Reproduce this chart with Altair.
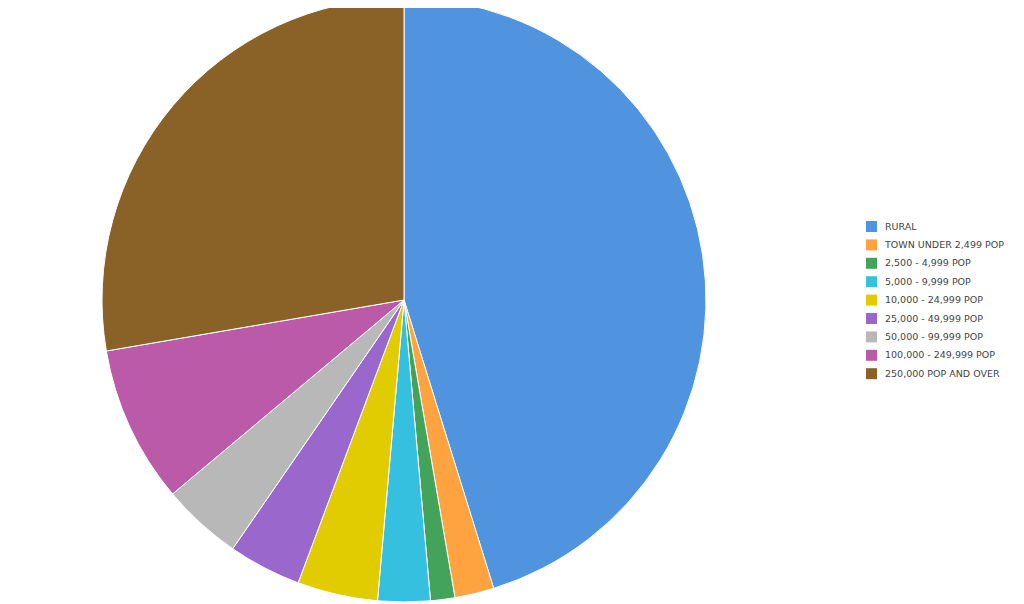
import altair as alt
import pandas as pd

categories = ["RURAL", "TOWN UNDER 2,499 POP", "2,500 - 4,999 POP", "5,000 - 9,999 POP",
              "10,000 - 24,999 POP", "25,000 - 49,999 POP", "50,000 - 99,999 POP",
              "100,000 - 249,999 POP", "250,000 POP AND OVER"]
values = [45.2, 2.1, 1.3, 2.8, 4.3, 3.9, 4.3, 8.4, 27.7]
colors = ["#5093de", "#ffa340", "#44a35a", "#36c0e0", "#e0cc00", "#9a68cc", "#b8b8b8", "#bb5aa8", "#8a6127"]

df = pd.DataFrame({"category": categories, "value": values, "order": list(range(len(categories)))})

chart = alt.Chart(df).mark_arc(radius=302, stroke="white", strokeWidth=1).encode(
    theta=alt.Theta("value:Q", stack=True),
    order=alt.Order("order:Q"),
    color=alt.Color("category:N",
                    scale=alt.Scale(domain=categories, range=colors),
                    sort=categories,
                    legend=alt.Legend(title=None, orient="none", legendX=858, legendY=213,
                                      symbolType="square", symbolSize=121, symbolStrokeWidth=0,
                                      labelFontSize=9.5, labelFont="DejaVu Sans", labelColor="#444444",
                                      rowPadding=7.4, labelOffset=8, labelLimit=300)),
    x=alt.value(396),
    y=alt.value(292),
).properties(width=1008, height=596, padding=0, autosize=alt.AutoSizeParams(type="none")
).configure_view(stroke=None)

chart.save("out.html", embed_options={"renderer": "svg", "actions": False})
